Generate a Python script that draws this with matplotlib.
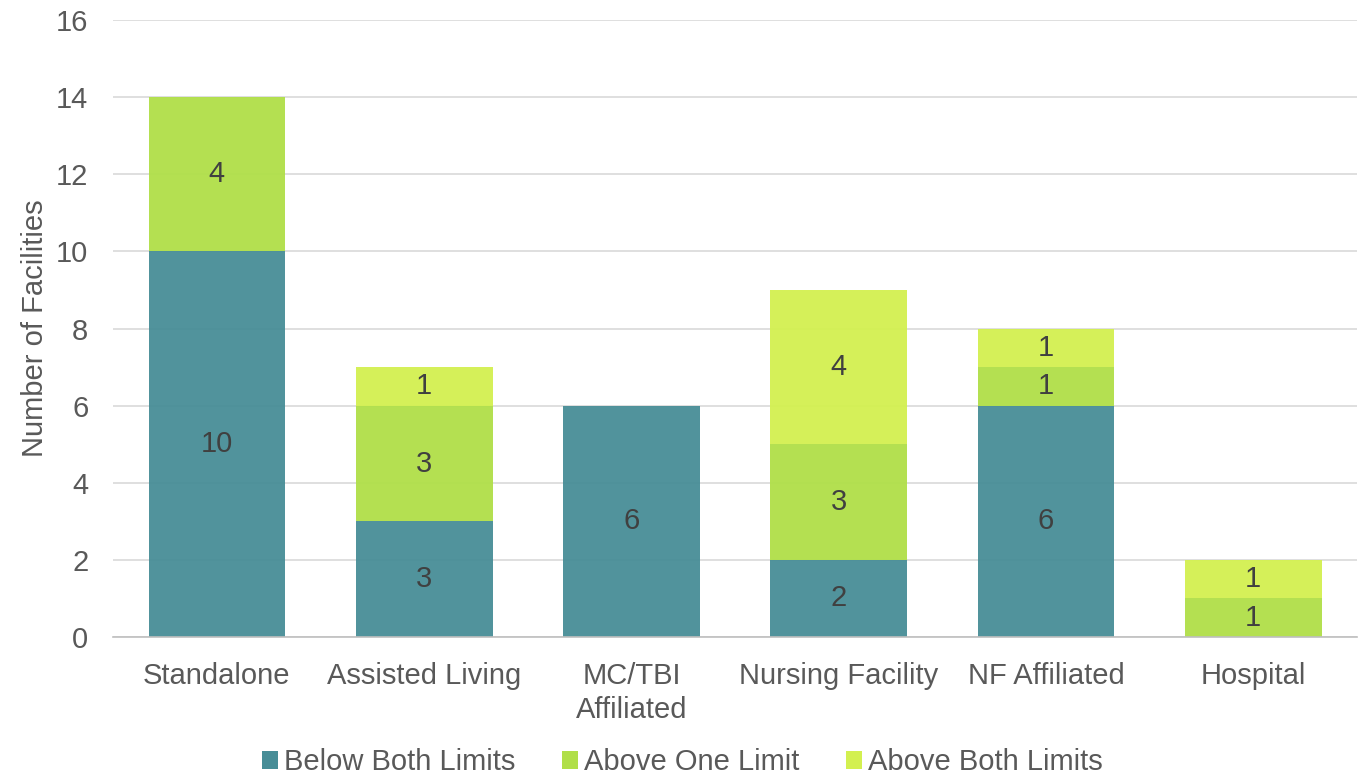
import matplotlib.pyplot as plt
from matplotlib.patches import Patch

categories = ["Standalone", "Assisted Living", "MC/TBI\nAffiliated", "Nursing Facility", "NF Affiliated", "Hospital"]
below_both = [10, 3, 6, 2, 6, 0]
above_one = [4, 3, 0, 3, 1, 1]
above_both = [0, 1, 0, 4, 1, 1]

series = [
    ("Below Both Limits", below_both, "#478d97"),
    ("Above One Limit", above_one, "#b0df48"),
    ("Above Both Limits", above_both, "#d3f050"),
]

plt.rcParams["font.family"] = ["Liberation Sans", "DejaVu Sans"]

fig = plt.figure(figsize=(13.65, 7.74), dpi=100)
ax = fig.add_axes([0.083, 0.177, 0.911, 0.797])

x = list(range(len(categories)))
bottom = [0] * len(categories)
for name, vals, color in series:
    ax.bar(x, vals, width=0.66, bottom=bottom, color=color, alpha=0.95, zorder=2)
    for xi, v, b in zip(x, vals, bottom):
        if v > 0:
            ax.text(xi, b + v / 2, str(v), ha="center", va="center", fontsize=21, color="#404040", zorder=3)
    bottom = [b + v for b, v in zip(bottom, vals)]

ax.set_xlim(-0.5, 5.5)
ax.set_ylim(0, 16)
ax.set_yticks(range(0, 17, 2))
ax.set_xticks(x)
ax.set_xticklabels(categories, fontsize=21, color="#595959", linespacing=1.25)
ax.tick_params(axis="y", labelsize=21, labelcolor="#595959", length=0, pad=18)
ax.tick_params(axis="x", length=0, pad=18)
ax.grid(axis="y", color="#d9d9d9", linewidth=1.2)
ax.set_axisbelow(True)
for s in ["top", "right", "left"]:
    ax.spines[s].set_visible(False)
ax.spines["bottom"].set_color("#bfbfbf")
ax.spines["bottom"].set_linewidth(1.2)
ax.set_ylabel("Number of Facilities", fontsize=21, color="#595959", labelpad=5)

handles = [Patch(facecolor=c, label=n) for n, _, c in series]
fig.legend(handles=handles, loc="lower center", bbox_to_anchor=(0.5, -0.037), ncol=3, frameon=False,
           fontsize=21, labelcolor="#595959", handlelength=0.55, handleheight=0.55,
           handletextpad=0.2, columnspacing=1.6)

fig.savefig("out.png", dpi=100)
